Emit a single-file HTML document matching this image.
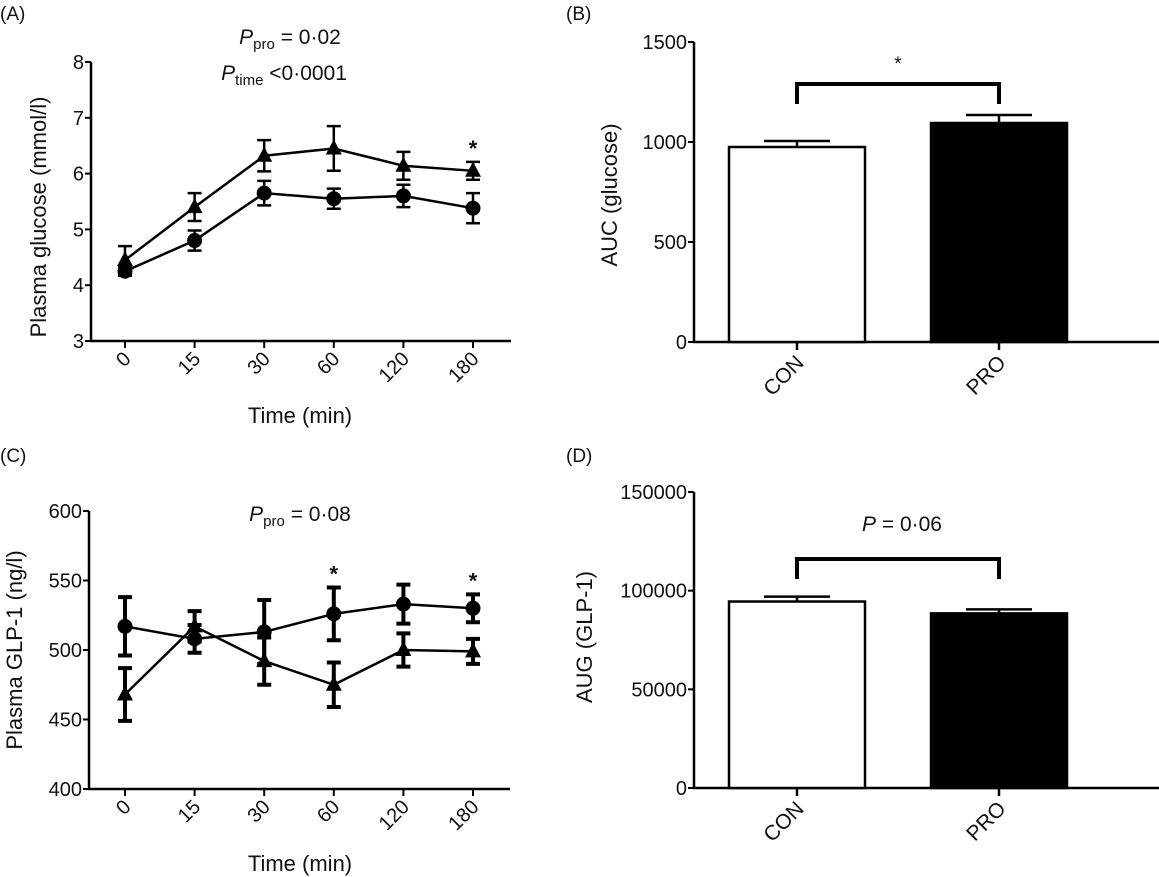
<!DOCTYPE html>
<html><head><meta charset="utf-8"><style>
html,body{margin:0;padding:0;background:#fff;}
svg{display:block;font-family:"Liberation Sans",Arial,sans-serif;}
</style></head><body>
<svg id="fig" width="1159" height="877" viewBox="0 0 1159 877" xmlns="http://www.w3.org/2000/svg">
<g font-size="19" fill="#111">
<text x="0" y="20">(A)</text>
<text x="566" y="20">(B)</text>
<text x="0" y="462">(C)</text>
<text x="566" y="462">(D)</text>
</g>
<g font-size="21" fill="#111">
<text x="290" y="44" text-anchor="middle"><tspan font-style="italic">P</tspan><tspan font-size="15" dy="5">pro</tspan><tspan dy="-5"> = 0·02</tspan></text>
<text x="284" y="80" text-anchor="middle"><tspan font-style="italic">P</tspan><tspan font-size="15" dy="5">time</tspan><tspan dy="-5"> &lt;0·0001</tspan></text>
<text x="300" y="521" text-anchor="middle"><tspan font-style="italic">P</tspan><tspan font-size="15" dy="5">pro</tspan><tspan dy="-5"> = 0·08</tspan></text>
<text x="902" y="531" text-anchor="middle"><tspan font-style="italic">P</tspan> = 0·06</text>
</g>
</svg>
<script>
// Panel A data
const timeLabels = ["0","15","30","60","120","180"];
const glucoseCON = [4.25,4.8,5.65,5.55,5.6,5.38];
const glucoseCONerr = [0.08,0.18,0.22,0.18,0.2,0.27];
const glucosePRO = [4.45,5.4,6.32,6.45,6.14,6.05];
const glucosePROerr = [0.25,0.25,0.28,0.4,0.25,0.16];
const glucoseTicks = [3,4,5,6,7,8];
const glucoseStars = [5];
// Panel C data
const glpCON = [517,508,513,526,533,530];
const glpCONerr = [21,10,23,19,14,10];
const glpPRO = [468,517,492,475,500,499];
const glpPROerr = [19,11,17,16,12,9];
const glpTicks = [400,450,500,550,600];
const glpStars = [3,5];
// Panel B data
const groups = ["CON","PRO"];
const aucGlucose = [975,1095];
const aucGlucoseErr = [30,40];
const aucTicks = [0,500,1000,1500];
// Panel D data
const augGLP = [94500,88500];
const augGLPErr = [2500,2000];
const augTicks = [0,50000,100000,150000];

const NS="http://www.w3.org/2000/svg";
const svg=document.getElementById('fig');
function mk(tag,attrs,parent){const e=document.createElementNS(NS,tag);for(const k in attrs)e.setAttribute(k,attrs[k]);(parent||svg).appendChild(e);return e;}

function linePanel(o){
  const g=mk('g',{});
  
  
  const ys=v=>o.y0-(v-o.vmin)/(o.vmax-o.vmin)*(o.y0-o.y1);
  const xs=i=>o.xFirst+i*o.dx;
  const ax=mk('path',{d:`M${o.ax},${o.y1} V${o.y0} H${o.axEnd}`,stroke:'#000','stroke-width':2.5,fill:'none'},g);
  
  
  o.ticks.forEach(t=>{
    mk('line',{x1:o.ax-6,x2:o.ax,y1:ys(t),y2:ys(t),stroke:'#000','stroke-width':2},g);
    const tx=mk('text',{x:o.ax-7,y:ys(t)+7,'text-anchor':'end','font-size':20,fill:'#111'},g);
    tx.textContent=t;
    
    
  });
  timeLabels.forEach((l,i)=>{
    mk('line',{x1:xs(i),x2:xs(i),y1:o.y0,y2:o.y0+7,stroke:'#000','stroke-width':2},g);
    const tx=mk('text',{x:0,y:0,'text-anchor':'end','font-size':20,fill:'#111',transform:`translate(${xs(i)+7},${o.y0+19}) rotate(-45)`},g);
    tx.textContent=l;
    
    
  });
  const xt=mk('text',{x:300,y:o.y0+82,'text-anchor':'middle','font-size':22,fill:'#111'},g);
  xt.textContent='Time (min)';
  
  
  const yt=mk('text',{x:0,y:0,'text-anchor':'middle','font-size':22,fill:'#111',transform:`translate(${o.ytx},${o.ytc}) rotate(-90)`},g);
  yt.textContent=o.ytitle;
  
  
  [[o.pro,o.proErr,'tri'],[o.con,o.conErr,'circ']].forEach(([vals,errs,shape])=>{
    const s=mk('g',{},g);
    
    
    const pl=mk('polyline',{points:vals.map((v,i)=>xs(i)+','+ys(v)).join(' '),stroke:'#000','stroke-width':2.5,fill:'none'},s);
    
    
    vals.forEach((v,i)=>{
      const x=xs(i),hi=ys(v+errs[i]),lo=ys(v-errs[i]);
      const eb=mk('path',{d:`M${x},${hi} V${lo} M${x-7},${hi} H${x+7} M${x-7},${lo} H${x+7}`,stroke:'#000','stroke-width':o.ebw,fill:'none'},s);
      
      
      let m;
      if(shape==='tri'){const y=ys(v);m=mk('polygon',{points:`${x},${y-9} ${x-8},${y+6} ${x+8},${y+6}`,fill:'#000'},s);}
      else m=mk('circle',{cx:x,cy:ys(v),r:7.5,fill:'#000'},s);
      
      
    });
  });
  o.stars.forEach(i=>{
    const top=Math.max(o.pro[i]+o.proErr[i],o.con[i]+o.conErr[i]);
    const st=mk('text',{x:xs(i),y:ys(top)-6,'text-anchor':'middle','font-size':22,'font-weight':'bold',fill:'#111'},g);
    st.textContent='*';
    
    
  });
}

function barPanel(o){
  const g=mk('g',{});
  
  
  const ys=v=>o.y0-v/o.vmax*(o.y0-o.y1);
  const cx=[797,999];
  const ax=mk('path',{d:`M${o.ax},${o.y1} V${o.y0} H1159`,stroke:'#000','stroke-width':2.5,fill:'none'},g);
  
  
  o.ticks.forEach(t=>{
    mk('line',{x1:o.ax-6,x2:o.ax,y1:ys(t),y2:ys(t),stroke:'#000','stroke-width':2},g);
    const tx=mk('text',{x:o.ax-7,y:ys(t)+7,'text-anchor':'end','font-size':20,fill:'#111'},g);
    tx.textContent=t;
    
    
  });
  const yt=mk('text',{x:0,y:0,'text-anchor':'middle','font-size':22,fill:'#111',transform:`translate(${o.ytx},${o.ytc}) rotate(-90)`},g);
  yt.textContent=o.ytitle;
  
  
  groups.forEach((gr,i)=>{
    const x=cx[i],w=136,top=ys(o.vals[i]),eh=ys(o.vals[i]+o.errs[i]);
    const eb=mk('path',{d:`M${x},${top} V${eh} M${x-33},${eh} H${x+33}`,stroke:'#000','stroke-width':2.5,fill:'none'},g);
    
    
    const r=mk('rect',{x:x-w/2,y:top,width:w,height:o.y0-top,fill:i?'#000':'#fff',stroke:'#000','stroke-width':2.5},g);
    
    
    mk('line',{x1:x,x2:x,y1:o.y0,y2:o.y0+8,stroke:'#000','stroke-width':2.5},g);
    const tx=mk('text',{x:0,y:0,'text-anchor':'end','font-size':21,fill:'#111',transform:`translate(${x+8},${o.y0+22}) rotate(-45)`},g);
    tx.textContent=gr;
    
    
  });
  const br=mk('path',{d:`M${cx[0]},${o.by+20} V${o.by} H${cx[1]} V${o.by+20}`,stroke:'#000','stroke-width':4,fill:'none'},g);
  
  
  if(o.star){
    const st=mk('text',{x:898,y:70,'text-anchor':'middle','font-size':19,fill:'#111'},g);
    st.textContent='*';
    
    
  }
}

linePanel({name:'panel-a-glucose',ax:91,axEnd:511,y0:341,y1:62,vmin:3,vmax:8,xFirst:125,dx:69.6,ticks:glucoseTicks,
  con:glucoseCON,conErr:glucoseCONerr,pro:glucosePRO,proErr:glucosePROerr,stars:glucoseStars,ytitle:'Plasma glucose (mmol/l)',ytx:46,ytc:217,ebw:2.5});
linePanel({name:'panel-c-glp1',ax:89,axEnd:510,y0:789,y1:511,vmin:400,vmax:600,xFirst:125,dx:69.6,ticks:glpTicks,
  con:glpCON,conErr:glpCONerr,pro:glpPRO,proErr:glpPROerr,stars:glpStars,ytitle:'Plasma GLP-1 (ng/l)',ytx:22,ytc:650,ebw:4});
barPanel({name:'panel-b-auc-glucose',ax:694,y0:342,y1:42,vmax:1500,ticks:aucTicks,vals:aucGlucose,errs:aucGlucoseErr,ytitle:'AUC (glucose)',ytx:617,ytc:195,by:84,star:true});
barPanel({name:'panel-d-aug-glp1',ax:694,y0:788,y1:492,vmax:150000,ticks:augTicks,vals:augGLP,errs:augGLPErr,ytitle:'AUG (GLP-1)',ytx:592,ytc:637,by:559,star:false});
</script>
</body></html>
